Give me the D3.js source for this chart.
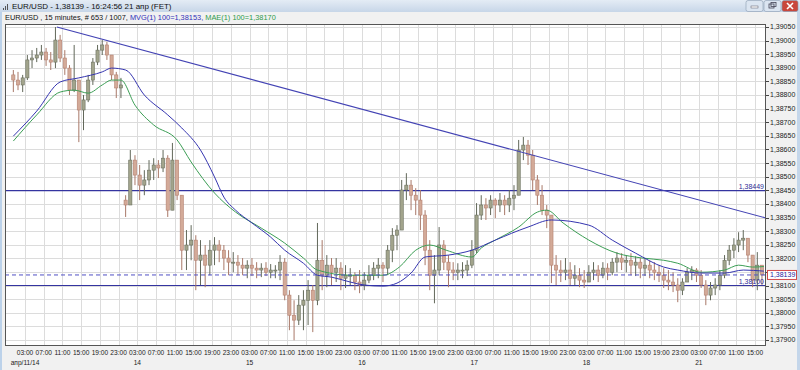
<!DOCTYPE html>
<html>
<head>
<meta charset="utf-8">
<script src="https://cdn.jsdelivr.net/npm/d3@7"></script>
<style>
html, body { margin: 0; padding: 0; background: #fff; }
svg { display: block; font-family: "Liberation Sans", Arial, sans-serif; }
</style>
</head>
<body>
<svg id="chart" width="800" height="370"></svg>
<script>
// ---- data (hourly bars: [high, low, close]) ----
const dayLabels = ["апр/11/14", "14", "15", "16", "17", "18", "21"];
const hourLabels = ["03:00", "07:00", "11:00", "15:00", "19:00", "23:00"];
const dayOpens = [1.38874, 1.38414, 1.38186, 1.38138, 1.38157, 1.38127, 1.38113];

const apr11 = [
  [1.38892, 1.38811, 1.38855], [1.38885, 1.38818, 1.38837], [1.38874, 1.38811, 1.38863], [1.38947, 1.38855, 1.38929],
  [1.38965, 1.38899, 1.38936], [1.38973, 1.38921, 1.38947], [1.38984, 1.38929, 1.38958], [1.38973, 1.38907, 1.38929],
  [1.38958, 1.38892, 1.38921], [1.39050, 1.38899, 1.39002], [1.39021, 1.38921, 1.38936], [1.38965, 1.38874, 1.38899],
  [1.38910, 1.38800, 1.38818], [1.38984, 1.38811, 1.38855], [1.38855, 1.38627, 1.38745], [1.38800, 1.38671, 1.38782],
  [1.38874, 1.38774, 1.38855], [1.38936, 1.38837, 1.38921], [1.38984, 1.38910, 1.38965], [1.39002, 1.38947, 1.38984],
  [1.38995, 1.38929, 1.38947], [1.38947, 1.38855, 1.38874], [1.38885, 1.38789, 1.38826], [1.38863, 1.38789, 1.38837]
];
const apr14 = [
  [1.38432, 1.38352, 1.38396], [1.38598, 1.38396, 1.38561], [1.38579, 1.38469, 1.38506], [1.38543, 1.38414, 1.38469],
  [1.38524, 1.38432, 1.38488], [1.38561, 1.38469, 1.38524], [1.38568, 1.38488, 1.38543], [1.38561, 1.38495, 1.38532],
  [1.38598, 1.38517, 1.38568], [1.38579, 1.38352, 1.38377], [1.38624, 1.38377, 1.38561], [1.38561, 1.38414, 1.38432],
  [1.38432, 1.38157, 1.38230], [1.38304, 1.38157, 1.38249], [1.38322, 1.38193, 1.38267], [1.38285, 1.38083, 1.38193],
  [1.38267, 1.38102, 1.38212], [1.38249, 1.38094, 1.38175], [1.38267, 1.38138, 1.38230], [1.38278, 1.38175, 1.38249],
  [1.38267, 1.38186, 1.38230], [1.38249, 1.38157, 1.38201], [1.38230, 1.38138, 1.38186], [1.38223, 1.38149, 1.38186]
];
const apr15 = [
  [1.38212, 1.38138, 1.38175], [1.38201, 1.38138, 1.38164], [1.38193, 1.38127, 1.38175], [1.38201, 1.38135, 1.38164],
  [1.38186, 1.38127, 1.38157], [1.38182, 1.38131, 1.38164], [1.38186, 1.38135, 1.38149], [1.38179, 1.38127, 1.38157],
  [1.38175, 1.38127, 1.38157], [1.38212, 1.38120, 1.38186], [1.38201, 1.38046, 1.38065], [1.38083, 1.37936, 1.37991],
  [1.38046, 1.37899, 1.37973], [1.38065, 1.37955, 1.38028], [1.38083, 1.37936, 1.38046], [1.38120, 1.37955, 1.38083],
  [1.38102, 1.37929, 1.38046], [1.38330, 1.38028, 1.38193], [1.38267, 1.38083, 1.38138], [1.38212, 1.38094, 1.38175],
  [1.38201, 1.38102, 1.38149], [1.38201, 1.38113, 1.38164], [1.38186, 1.38083, 1.38127], [1.38175, 1.38091, 1.38138]
];
const apr16 = [
  [1.38164, 1.38102, 1.38138], [1.38149, 1.38083, 1.38113], [1.38157, 1.38072, 1.38102], [1.38149, 1.38083, 1.38120],
  [1.38175, 1.38109, 1.38138], [1.38186, 1.38120, 1.38164], [1.38201, 1.38127, 1.38175], [1.38186, 1.38113, 1.38164],
  [1.38249, 1.38138, 1.38230], [1.38311, 1.38186, 1.38285], [1.38322, 1.38230, 1.38304], [1.38488, 1.38304, 1.38451],
  [1.38513, 1.38414, 1.38469], [1.38488, 1.38377, 1.38432], [1.38458, 1.38359, 1.38414], [1.38451, 1.38304, 1.38359],
  [1.38377, 1.38175, 1.38230], [1.38267, 1.38083, 1.38138], [1.38212, 1.38035, 1.38157], [1.38315, 1.38138, 1.38249],
  [1.38267, 1.38157, 1.38186], [1.38212, 1.38094, 1.38157], [1.38186, 1.38120, 1.38149], [1.38182, 1.38120, 1.38157]
];
const apr17 = [
  [1.38186, 1.38127, 1.38157], [1.38193, 1.38135, 1.38175], [1.38267, 1.38164, 1.38230], [1.38403, 1.38219, 1.38359],
  [1.38432, 1.38341, 1.38396], [1.38421, 1.38341, 1.38385], [1.38432, 1.38359, 1.38414], [1.38421, 1.38348, 1.38396],
  [1.38440, 1.38370, 1.38414], [1.38432, 1.38359, 1.38396], [1.38451, 1.38370, 1.38421], [1.38469, 1.38377, 1.38432],
  [1.38635, 1.38432, 1.38598], [1.38646, 1.38561, 1.38616], [1.38635, 1.38543, 1.38579], [1.38598, 1.38451, 1.38488],
  [1.38506, 1.38396, 1.38432], [1.38469, 1.38359, 1.38377], [1.38396, 1.38311, 1.38359], [1.38359, 1.38109, 1.38175],
  [1.38212, 1.38102, 1.38157], [1.38193, 1.38113, 1.38149], [1.38201, 1.38120, 1.38157], [1.38186, 1.38102, 1.38127]
];
const apr18 = [
  [1.38175, 1.38102, 1.38138], [1.38164, 1.38094, 1.38120], [1.38157, 1.38091, 1.38113], [1.38175, 1.38113, 1.38149],
  [1.38186, 1.38120, 1.38157], [1.38175, 1.38113, 1.38138], [1.38186, 1.38127, 1.38164], [1.38182, 1.38120, 1.38149],
  [1.38201, 1.38138, 1.38186], [1.38223, 1.38149, 1.38201], [1.38219, 1.38157, 1.38186], [1.38212, 1.38149, 1.38193],
  [1.38219, 1.38138, 1.38175], [1.38208, 1.38135, 1.38186], [1.38201, 1.38127, 1.38164], [1.38201, 1.38135, 1.38175],
  [1.38193, 1.38127, 1.38157], [1.38186, 1.38120, 1.38149], [1.38175, 1.38113, 1.38138], [1.38164, 1.38091, 1.38120],
  [1.38157, 1.38083, 1.38113], [1.38149, 1.38076, 1.38102], [1.38127, 1.38039, 1.38083], [1.38127, 1.38065, 1.38113]
];
const apr21 = [
  [1.38164, 1.38113, 1.38149], [1.38171, 1.38120, 1.38157], [1.38164, 1.38113, 1.38138], [1.38157, 1.38091, 1.38102],
  [1.38120, 1.38028, 1.38065], [1.38113, 1.38046, 1.38091], [1.38127, 1.38065, 1.38102], [1.38157, 1.38083, 1.38138],
  [1.38212, 1.38127, 1.38193], [1.38249, 1.38175, 1.38230], [1.38274, 1.38201, 1.38249], [1.38296, 1.38223, 1.38267],
  [1.38304, 1.38230, 1.38274], [1.38274, 1.38186, 1.38212], [1.38212, 1.38094, 1.38120], [1.38223, 1.38083, 1.38175],
  [1.38175, 1.38102, 1.38139]
];

// moving averages: [trading hour, price]
const mvg = [
  [0, 1.38649], [5, 1.38741], [10, 1.38848], [14, 1.38863], [19, 1.38885], [21, 1.38899], [24, 1.38892],
  [28, 1.38800], [33, 1.38727], [36, 1.38679], [40, 1.38598], [43, 1.38499], [45, 1.38425], [47.5, 1.38377],
  [51, 1.38330], [55, 1.38278], [58, 1.38230], [62, 1.38182], [65, 1.38138], [68, 1.38131], [72, 1.38113],
  [75, 1.38102], [79, 1.38098], [82, 1.38109], [85, 1.38146], [88, 1.38205], [93, 1.38212], [98, 1.38230],
  [103, 1.38267], [110, 1.38315], [115, 1.38341], [123, 1.38322], [128, 1.38267], [133, 1.38219],
  [139, 1.38168], [142, 1.38157], [147, 1.38146], [152, 1.38146], [156, 1.38157], [160.4, 1.38153]
];
const mae = [
  [0, 1.38631], [5, 1.38727], [10, 1.38811], [13, 1.38818], [16, 1.38807], [19, 1.38837], [21, 1.38855],
  [23, 1.38855], [26, 1.38763], [30, 1.38690], [35, 1.38635], [38, 1.38554], [43, 1.38440], [47.5, 1.38370],
  [53, 1.38311], [58, 1.38256], [62, 1.38201], [65, 1.38157], [72, 1.38138], [79, 1.38138], [82.5, 1.38168],
  [86, 1.38230], [89, 1.38249], [92.5, 1.38230], [98, 1.38205], [100, 1.38238], [103, 1.38267], [108, 1.38315],
  [112, 1.38370], [114, 1.38377], [117.5, 1.38330], [123, 1.38267], [129, 1.38219], [134.5, 1.38201],
  [139, 1.38193], [142, 1.38182], [147, 1.38149], [152, 1.38157], [155, 1.38175], [158, 1.38168], [160.4, 1.38170]
];

const trend = [[9.8, 1.39050], [161.4, 1.38348]];
const levels = [1.38449, 1.38100];
const lastPrice = 1.38139;

// ---- layout ----
const plot = {left: 5, right: 766, top: 24, bottom: 346};
const svg = d3.select("#chart");
const fmt = d3.formatLocale({decimal: ",", thousands: " ", grouping: [3], currency: ["", ""]}).format(".5f");

const days = [apr11, apr14, apr15, apr16, apr17, apr18, apr21];
const candles = [];
days.forEach((bars, d) => {
  let open = dayOpens[d];
  bars.forEach(([hi, lo, cl]) => {
    candles.push({i: candles.length, o: open, h: Math.max(hi, open, cl), l: Math.min(lo, open, cl), c: cl});
    open = cl;
  });
});

const x = d3.scaleLinear().domain([-1.28, 161.36]).range([plot.left, plot.right]);
const y = d3.scaleLinear().domain([1.37878, 1.39061]).range([plot.bottom, plot.top]);

// window background + borders
svg.append("rect").attr("width", 800).attr("height", 370).attr("fill", "#f1f1f1");
svg.append("rect").attr("x", 0).attr("y", 0).attr("width", 2).attr("height", 370).attr("fill", "#bcd2ea");
svg.append("rect").attr("x", 797).attr("y", 0).attr("width", 3).attr("height", 370).attr("fill", "#c4d6ea");

// title bar
const defs = svg.append("defs");
const grad = defs.append("linearGradient").attr("id", "tb").attr("x1", 0).attr("x2", 0).attr("y1", 0).attr("y2", 1);
grad.append("stop").attr("offset", "0%").attr("stop-color", "#e4ecf5");
grad.append("stop").attr("offset", "100%").attr("stop-color", "#c7d6e8");
svg.append("rect").attr("x", 0).attr("y", 0).attr("width", 800).attr("height", 12).attr("fill", "url(#tb)");
svg.append("g").selectAll("rect").data([3, 5, 7]).enter().append("rect")
  .attr("x", d => d).attr("y", (d, k) => 8 - k * 2).attr("width", 1).attr("height", (d, k) => 2 + k * 2)
  .attr("fill", "#555");
svg.append("text").attr("x", 12).attr("y", 9).attr("font-size", 8).attr("fill", "#111")
  .text("EUR/USD - 1,38139 - 16:24:56  21 апр (FET)");

// window buttons
const btns = [{x: 746, w: 17, fill: "#dbe5f1"}, {x: 764, w: 17, fill: "#dbe5f1"}, {x: 782, w: 16, fill: "#c9473c"}];
svg.append("g").selectAll("rect").data(btns).enter().append("rect")
  .attr("x", d => d.x).attr("y", 0.5).attr("width", d => d.w).attr("height", 11).attr("rx", 2)
  .attr("fill", d => d.fill).attr("stroke", "#8a9ab0").attr("stroke-width", 0.6);
svg.append("rect").attr("x", 751).attr("y", 6).attr("width", 7).attr("height", 2).attr("fill", "#fff").attr("stroke", "#556").attr("stroke-width", 0.5);
svg.append("rect").attr("x", 769).attr("y", 4).attr("width", 5).attr("height", 4).attr("fill", "none").attr("stroke", "#445").attr("stroke-width", 0.8);
svg.append("rect").attr("x", 771).attr("y", 2.5).attr("width", 5).attr("height", 4).attr("fill", "none").attr("stroke", "#445").attr("stroke-width", 0.8);
svg.append("path").attr("d", "M787,3 L793,9 M793,3 L787,9").attr("stroke", "#fff").attr("stroke-width", 1.6);

// header line
const hdr = svg.append("text").attr("x", 5).attr("y", 19.5).attr("font-size", 7.4);
hdr.append("tspan").attr("fill", "#111").text("EUR/USD , 15 minutes, # 653 / 1007, ");
hdr.append("tspan").attr("fill", "#3030b8").text("MVG(1) 100=1,38153, ");
hdr.append("tspan").attr("fill", "#2f9a4a").text("MAE(1) 100=1,38170");

// plot area
svg.append("rect").attr("x", plot.left).attr("y", plot.top)
  .attr("width", plot.right - plot.left).attr("height", plot.bottom - plot.top).attr("fill", "#fff");

// ticks
const priceTicks = d3.range(0, 24).map(k => +(1.3790 + k * 0.0005).toFixed(4));
const timeTicks = [];
days.forEach((bars, d) => {
  hourLabels.forEach(lbl => {
    const hh = +lbl.slice(0, 2);
    if (hh < bars.length) timeTicks.push({t: d * 24 + hh, label: lbl, day: hh === 3 ? dayLabels[d] : null});
  });
});

// grid
const grid = svg.append("g").attr("stroke", "#dcdcdc").attr("stroke-width", 1).attr("shape-rendering", "crispEdges");
grid.selectAll(".h").data(priceTicks).enter().append("line")
  .attr("x1", plot.left).attr("x2", plot.right)
  .attr("y1", d => Math.round(y(d)) + 0.5).attr("y2", d => Math.round(y(d)) + 0.5);
grid.selectAll(".v").data(timeTicks).enter().append("line")
  .attr("y1", plot.top).attr("y2", plot.bottom)
  .attr("x1", d => Math.round(x(d.t)) + 0.5).attr("x2", d => Math.round(x(d.t)) + 0.5);

// clip
defs.append("clipPath").attr("id", "clip").append("rect")
  .attr("x", plot.left).attr("y", plot.top).attr("width", plot.right - plot.left).attr("height", plot.bottom - plot.top);
const body = svg.append("g").attr("clip-path", "url(#clip)");

// horizontal level lines
body.selectAll(".lvl").data(levels).enter().append("line")
  .attr("x1", plot.left).attr("x2", plot.right)
  .attr("y1", d => y(d)).attr("y2", d => y(d))
  .attr("stroke", "#3434a0").attr("stroke-width", 1.1);

// candles
const cg = body.append("g");
const up = d => d.c >= d.o;
cg.selectAll("line").data(candles).enter().append("line")
  .attr("x1", d => x(d.i + 0.5)).attr("x2", d => x(d.i + 0.5))
  .attr("y1", d => y(d.h)).attr("y2", d => y(d.l))
  .attr("stroke", d => up(d) ? "#62685a" : "#a87868").attr("stroke-width", 1);
cg.selectAll("rect").data(candles).enter().append("rect")
  .attr("x", d => x(d.i + 0.5) - 1.6).attr("width", 3.2)
  .attr("y", d => y(Math.max(d.o, d.c)))
  .attr("height", d => Math.max(1, Math.abs(y(d.o) - y(d.c))))
  .attr("fill", d => up(d) ? "#a2a48c" : "#d3aa98")
  .attr("stroke", d => up(d) ? "#6d7260" : "#b58070").attr("stroke-width", 0.6);

// moving averages
const line = d3.line().x(d => x(d[0] + 0.5)).y(d => y(d[1])).curve(d3.curveMonotoneX);
body.append("path").datum(mae).attr("d", line).attr("fill", "none").attr("stroke", "#3c9e55").attr("stroke-width", 1);
body.append("path").datum(mvg).attr("d", line).attr("fill", "none").attr("stroke", "#3535b0").attr("stroke-width", 1);

// trend line
body.append("line")
  .attr("x1", x(trend[0][0])).attr("y1", y(trend[0][1]))
  .attr("x2", x(trend[1][0])).attr("y2", y(trend[1][1]))
  .attr("stroke", "#4343b4").attr("stroke-width", 1.1);

// last price dashed
body.append("line").attr("x1", plot.left).attr("x2", plot.right)
  .attr("y1", y(lastPrice)).attr("y2", y(lastPrice))
  .attr("stroke", "#5050c4").attr("stroke-width", 1).attr("stroke-dasharray", "4,3");

// level labels
svg.selectAll(".lvlTxt").data(levels).enter().append("text")
  .attr("x", plot.right - 2).attr("y", d => y(d) - 1.5)
  .attr("text-anchor", "end").attr("font-size", 7).attr("fill", "#2c2c96")
  .text(d => fmt(d));

// frame
svg.append("rect").attr("x", plot.left + 0.5).attr("y", plot.top + 0.5)
  .attr("width", plot.right - plot.left - 1).attr("height", plot.bottom - plot.top - 1)
  .attr("fill", "none").attr("stroke", "#555").attr("stroke-width", 1).attr("shape-rendering", "crispEdges");

// right axis (the label under the last-price box is hidden, as in the original)
const ra = svg.append("g");
ra.selectAll("line").data(priceTicks).enter().append("line")
  .attr("x1", plot.right).attr("x2", plot.right + 3)
  .attr("y1", d => Math.round(y(d)) + 0.5).attr("y2", d => Math.round(y(d)) + 0.5)
  .attr("stroke", "#444").attr("shape-rendering", "crispEdges");
ra.selectAll("text").data(priceTicks.filter(d => Math.abs(y(d) - y(lastPrice)) > 8)).enter().append("text")
  .attr("x", plot.right + 4).attr("y", d => y(d)).attr("dy", "0.35em")
  .attr("font-size", 7).attr("fill", "#222").text(d => fmt(d));

// last price box
svg.append("rect").attr("x", plot.right + 1.5).attr("y", y(lastPrice) - 4.5).attr("width", 29).attr("height", 9)
  .attr("fill", "#fff").attr("stroke", "#d24a4a").attr("stroke-width", 1);
svg.append("text").attr("x", plot.right + 4).attr("y", y(lastPrice)).attr("dy", "0.35em")
  .attr("font-size", 7).attr("fill", "#2525a0").text(fmt(lastPrice));

// bottom axis
const ba = svg.append("g");
ba.selectAll(".tl").data(timeTicks).enter().append("text")
  .attr("x", d => x(d.t)).attr("y", 355).attr("text-anchor", "middle")
  .attr("font-size", 6.6).attr("fill", "#222").text(d => d.label);
ba.selectAll(".dl").data(timeTicks.filter(d => d.day)).enter().append("text")
  .attr("x", d => x(d.t)).attr("y", 365).attr("text-anchor", "middle")
  .attr("font-size", 6.6).attr("fill", "#222").text(d => d.day);
</script>
</body>
</html>
